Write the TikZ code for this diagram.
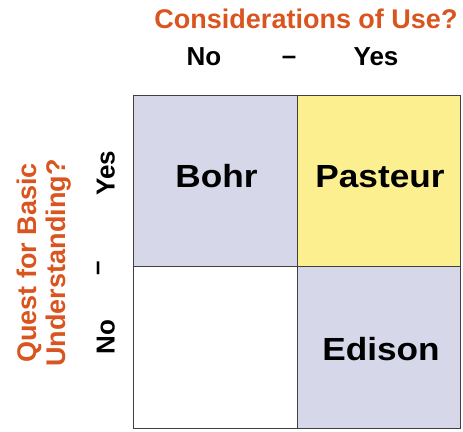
\documentclass[tikz,border=0pt]{standalone}
\usepackage{fontspec}
\setmainfont{Liberation Sans}
\newfontfamily\widefont[FakeStretch=1.1]{Liberation Sans}
\definecolor{quadlav}{HTML}{D6D7E9}
\definecolor{quadyel}{HTML}{FCEF8F}
\definecolor{axisorange}{HTML}{D9541E}

\begin{document}
\begin{tikzpicture}[x=1pt, y=-1pt, every node/.style={inner sep=0pt, outer sep=0pt},
  cell/.style={draw=black!75, line width=1pt},
  who/.style={anchor=base, font=\widefont\fontsize{32}{38}\selectfont\bfseries},
  tick/.style={font=\fontsize{26}{31}\selectfont\bfseries},
  axis/.style={anchor=base, text=axisorange, font=\fontsize{27}{32}\selectfont\bfseries}]
  \useasboundingbox (0,0) rectangle (463,431);

  % the four quadrants
  \node (bohrcell) [cell, fill=quadlav, minimum width=164pt, minimum height=171pt] at (215,180.5) {};
  \node (pasteurcell) [cell, fill=quadyel, minimum width=163pt, minimum height=171pt] at (378.5,180.5) {};
  \node (emptycell) [cell, fill=white, minimum width=164pt, minimum height=162pt] at (215,347) {};
  \node (edisoncell) [cell, fill=quadlav, minimum width=163pt, minimum height=162pt] at (378.5,347) {};

  \node (bohr) [who] at (216.5,187) {Bohr};
  \node (pasteur) [who] at (380,187) {Pasteur};
  \node (edison) [who] at (381,360) {Edison};

  % use axis on top
  \node (use) [axis] at (306,28) {Considerations of Use?};
  \node (useno) [tick, anchor=base] at (204,65) {No};
  \node (usemid) [tick] at (289,60) {--};
  \node (useyes) [tick, anchor=base] at (376,65) {Yes};

  % understanding axis on the left
  \begin{scope}[every node/.append style={rotate=90}]
    \node (quest) [axis] at (36,263) {Quest for Basic};
    \node (underst) [axis] at (65,263) {Understanding?};
    \node (questyes) [tick, anchor=base] at (114.5,173) {Yes};
    \node (questmid) [tick] at (101,268) {--};
    \node (questno) [tick, anchor=base] at (114.5,337) {No};
  \end{scope}
\end{tikzpicture}
\end{document}
